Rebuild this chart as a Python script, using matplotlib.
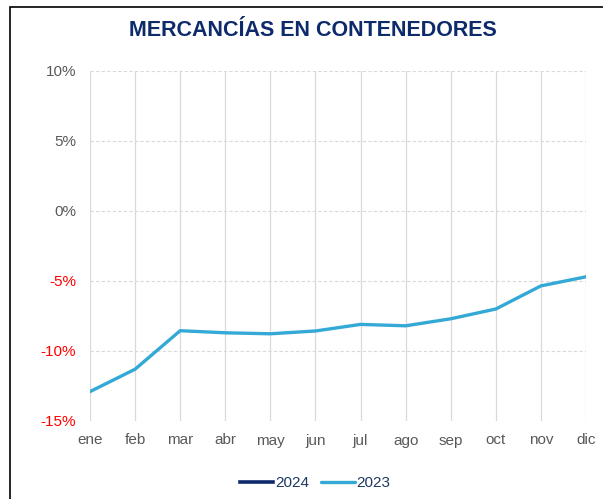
import matplotlib.pyplot as plt
from matplotlib.patches import Rectangle

plt.rcParams['font.family'] = ['Liberation Sans', 'DejaVu Sans']

months = ['ene', 'feb', 'mar', 'abr', 'may', 'jun', 'jul', 'ago', 'sep', 'oct', 'nov', 'dic']
serie_2023 = [-12.9, -11.3, -8.55, -8.7, -8.77, -8.57, -8.1, -8.2, -7.7, -7.0, -5.35, -4.7]
serie_2024 = []
yticks = [10, 5, 0, -5, -10, -15]

fig = plt.figure(figsize=(6.03, 4.99), dpi=100)
ax = fig.add_axes([90 / 603, 78 / 499, 496 / 603, 350 / 499])

x = list(range(len(months)))
ax.plot(serie_2024, color='#0d2a6b', lw=2.6, label='2024')
ax.plot(x, serie_2023, color='#35a9d6', lw=2.4, label='2023', solid_capstyle='round')

ax.set_xlim(0, 11)
ax.set_ylim(-15, 10)
ax.set_xticks(x)
ax.set_xticklabels(months)
ax.set_yticks(yticks)
ax.set_yticklabels([f'{v}%' for v in yticks])
for lbl, v in zip(ax.get_yticklabels(), yticks):
    lbl.set_color('#ff0000' if v < 0 else '#595959')
for lbl in ax.get_xticklabels():
    lbl.set_color('#595959')
ax.tick_params(length=0, labelsize=11)
ax.tick_params(axis='x', pad=9)
ax.tick_params(axis='y', pad=10)

# vertical month lines solid, horizontal lines dashed
for xi in x:
    ax.axvline(xi, color='#d9d9d9', lw=0.9, zorder=0)
for yv in yticks:
    ax.axhline(yv, color='#d9d9d9', lw=0.8, ls=(0, (3, 2)), zorder=0)
for s in ax.spines.values():
    s.set_visible(False)

fig.text(313 / 603, 1 - 30 / 499, 'MERCANCÍAS EN CONTENEDORES', ha='center', va='center',
         fontsize=15.5, fontweight='bold', color='#0d2a6b')

fig.legend(loc='center', bbox_to_anchor=(315 / 603, 1 - 483 / 499), ncol=2, frameon=False,
           fontsize=11, handlelength=2.2, handletextpad=0.1, columnspacing=0.8,
           labelcolor='#1f3864')

fig.patches.append(Rectangle((10 / 603, -0.05), 1.2, 1 - 7 / 499 + 0.05, transform=fig.transFigure,
                             fill=False, edgecolor='#000000', lw=1.2))

fig.savefig('out.png', dpi=100)
